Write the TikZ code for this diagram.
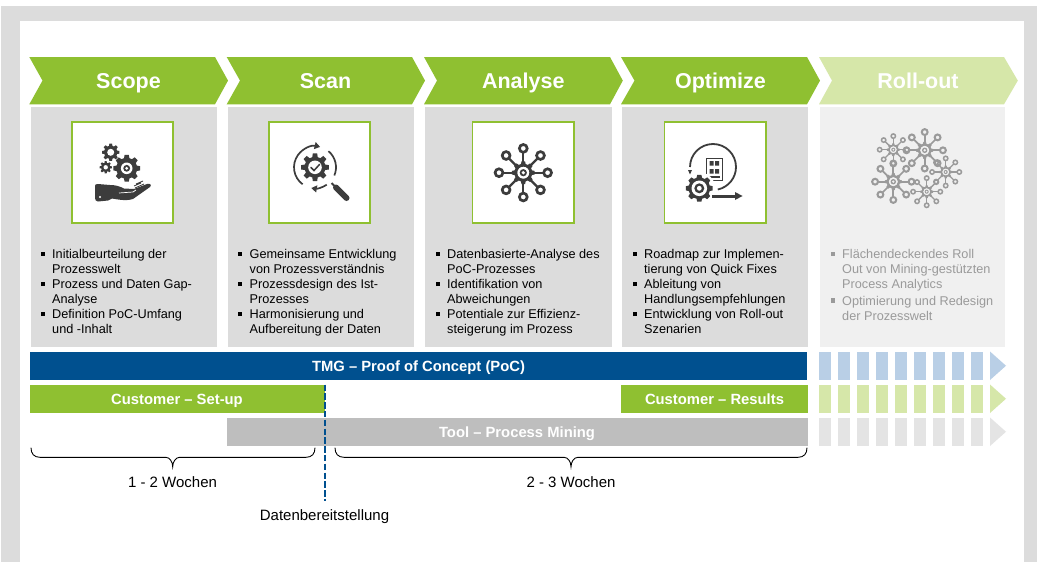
\documentclass[tikz,border=0pt]{standalone}
\usepackage{fontspec}
\setmainfont{Liberation Sans}
\usetikzlibrary{calc,arrows.meta}
\definecolor{tgreen}{HTML}{8FC031}
\definecolor{lgreen}{HTML}{D6E7A9}
\definecolor{tblue}{HTML}{00508F}
\definecolor{lblue}{HTML}{B9CFE6}
\definecolor{panel}{HTML}{DCDCDC}
\definecolor{lpanel}{HTML}{F0F0F0}
\definecolor{frame}{HTML}{DCDCDC}
\definecolor{toolgray}{HTML}{BEBEBE}
\definecolor{lgray}{HTML}{E4E4E4}
\definecolor{ink}{HTML}{3C3C3C}
\definecolor{fade}{HTML}{9A9A9A}
\newcommand{\bul}{\llap{\rule[2.6pt]{4.2pt}{4.2pt}\hspace{7.4pt}}}
\newcommand{\tgear}[6]{% x,y,router,rroot,rhole,colour
  \begin{scope}[shift={(#1,#2)}]
  \fill[#6] (9:#3)
    \foreach \a in {0,45,...,315}{
      -- (\a+9:#3) -- (\a+15:#4) -- (\a+30:#4) -- (\a+36:#3) }
    -- cycle;
  \fill[white] (0,0) circle (#5);
  \end{scope}}
\newcommand{\hubnet}[5]{% x,y,scale,colour,interior
  \begin{scope}[shift={(#1,#2)},scale=#3]
  \foreach \a in {0,45,...,315}{
    \draw[#4,line width=#3*2.3pt] (\a:8) -- (\a:20);
    \draw[#4,line width=#3*2.7pt] (\a:24.3) circle (3.9);}
  \tgear{0}{0}{11.5}{9}{5.8}{#4}
  \fill[#5] (0,0) circle (5.8);
  \fill[#4] (0,0) circle (3.6);
  \fill[#5] (0,0) circle (1.8);
  \end{scope}}
\tikzset{
  x=1pt,y=-1pt,
  chev/.style={fill=#1,draw=none},
  title/.style={font=\fontsize{21.5}{24}\selectfont\bfseries,text=white,inner sep=0,anchor=base},
  panelbox/.style={fill=#1,draw=none},
  iconbox/.style={fill=white,draw=tgreen,line width=1.3pt},
  bodytext/.style={font=\fontsize{12.7}{15.1}\selectfont,text=black,align=left,anchor=north west,inner sep=0},
  barlabel/.style={font=\fontsize{14.8}{17}\selectfont\bfseries,text=white,inner sep=0,anchor=base},
  plain/.style={font=\fontsize{15}{17}\selectfont,text=black,inner sep=0,anchor=base},
  curly/.style={draw=black,line width=0.9pt},
}
\begin{document}
\begin{tikzpicture}
\useasboundingbox (0,0) rectangle (1037,562);
% frame
\fill[white] (0,0) rectangle (1037,562);
\fill[frame] (1,5.5) rectangle (1037,562);
\fill[white] (19.5,20.5) rectangle (1024.3,562);
% chevrons
\fill[chev=tgreen] (29.3,57) -- (215,57) -- (228,80.6) -- (215,104.3) -- (29.3,104.3) -- (42.5,80.6) -- cycle;
\fill[chev=tgreen] (226.7,57) -- (412,57) -- (425,80.6) -- (412,104.3) -- (226.7,104.3) -- (240,80.6) -- cycle;
\fill[chev=tgreen] (424,57) -- (610,57) -- (622.8,80.6) -- (610,104.3) -- (424,104.3) -- (437,80.6) -- cycle;
\fill[chev=tgreen] (621,57) -- (807,57) -- (820,80.6) -- (807,104.3) -- (621,104.3) -- (634.5,80.6) -- cycle;
\fill[chev=lgreen] (819,57) -- (1004,57) -- (1017.8,80.6) -- (1004,104.3) -- (819,104.3) -- (832,80.6) -- cycle;
\node[title] (t1) at (128.5,88.7) {Scope};
\node[title] (t2) at (325.5,88.7) {Scan};
\node[title] (t3) at (523.3,88.7) {Analyse};
\node[title] (t4) at (720.5,88.7) {Optimize};
\node[title] (t5) at (918,88.7) {Roll-out};
% panels
\fill[panelbox=panel] (31,107) rectangle (217,347);
\fill[panelbox=panel] (228,107) rectangle (414,347);
\fill[panelbox=panel] (425,107) rectangle (611.5,347);
\fill[panelbox=panel] (622,107) rectangle (808,347);
\fill[panelbox=lpanel] (820,107) rectangle (1005,347);
% icon boxes
\draw[iconbox] (72,122) rectangle (173,223);
\draw[iconbox] (269,122) rectangle (370,223);
\draw[iconbox] (472.5,122) rectangle (574,223);
\draw[iconbox] (664.5,122) rectangle (766,223);
% icon scope
\tgear{126.7}{168.3}{13.5}{10.5}{5.8}{ink}
\fill[ink] (126.7,168.3) circle (3.4);
\fill[white] (126.7,168.3) circle (1.6);
\tgear{110.7}{152.3}{8.7}{6.6}{3.5}{ink}
\tgear{105.7}{167.3}{6.2}{4.6}{2.2}{ink}
\fill[ink] (95,186) .. controls (95,184.5) and (96,184) .. (98,184) -- (110,185) .. controls (116,185) and (120,186.5) .. (124,188.5) -- (134,189) -- (147,184) .. controls (150,183) and (152,185) .. (150,187) -- (133,199) .. controls (128,201) and (120,200) .. (112,198.5) -- (108,200.5) -- (98,201.5) .. controls (96,201.5) and (95,200) .. (95,198) -- cycle;
\fill[white] (100,197) circle (1.2);
\draw[white,line width=0.7pt] (119,193) -- (133,192) -- (136,190);
\draw[ink,line width=0.8pt] (134,186) -- (141,183) (136,184) -- (143,181) (135,188) -- (144,184);
% icon scan
\coordinate (sc) at (315,167.3);
\tgear{315}{167.3}{14}{10.5}{6.8}{ink}
\draw[ink,line width=1.5pt,line cap=round] (311,167.5) -- (314,170.5) -- (319.5,164.5);
\draw[ink,line width=1.7pt,-{Triangle[length=5.5pt,width=7pt]}] ($(sc)+(126:21)$) arc[start angle=126,end angle=284,radius=21];
\draw[ink,line width=1.7pt] ($(sc)+(310:21)$) arc[start angle=310,end angle=383,radius=21];
\draw[ink,line width=1.7pt,-{Triangle[length=5.5pt,width=7pt]}] ($(sc)+(56:21)$) arc[start angle=56,end angle=100,radius=21];
\draw[ink,line width=6pt,line cap=round] (336,187.5) -- (346.5,198);
\draw[ink,line width=1.8pt] (331.5,183) -- (337,188.5);
% icon analyse
\hubnet{523.3}{172.7}{1}{ink}{white}
% icon optimize
\coordinate (oc) at (713,167);
\draw[ink,line width=1.8pt] ($(oc)+(180:23)$) arc[start angle=180,end angle=438,radius=23];
\fill[ink] (688,170) -- (692,170) -- (690,174.5) -- cycle;
\draw[ink,line width=1pt] (706,158) rectangle (722,180);
\fill[ink] (709.5,161) rectangle (713.5,165.5) (715,161) rectangle (719,165.5);
\fill[ink] (709.5,169) rectangle (713.5,173.5) (715,169) rectangle (719,173.5);
\fill[ink] (708,176) rectangle (720,178);
\fill[white] (699.3,188.3) circle (16);
\tgear{699.3}{188.3}{13.5}{10.8}{7.8}{ink}
\fill[ink] (699.3,188.3) circle (5);
\fill[white] (699.3,188.3) circle (2.4);
\fill[ink] (712,194.5) rectangle (736,197.5);
\fill[ink] (735,192) -- (742.5,196) -- (735,200) -- cycle;
% icon rollout
\hubnet{924.7}{150.3}{0.75}{fade}{lpanel}
\hubnet{893.3}{149.7}{0.56}{fade}{lpanel}
\hubnet{893.3}{181.7}{0.75}{fade}{lpanel}
\hubnet{945.7}{172}{0.56}{fade}{lpanel}
\hubnet{926.7}{191.7}{0.56}{fade}{lpanel}
% lists
\node[bodytext] (l1) at (52,249) {\bul Initialbeurteilung der\\Prozesswelt\\\bul Prozess und Daten Gap-\\Analyse\\\bul Definition PoC-Umfang\\und -Inhalt};
\node[bodytext] (l2) at (249.5,249) {\bul Gemeinsame Entwicklung\\von Prozessverständnis\\\bul Prozessdesign des Ist-\\Prozesses\\\bul Harmonisierung und\\Aufbereitung der Daten};
\node[bodytext] (l3) at (447,249) {\bul Datenbasierte-Analyse des\\PoC-Prozesses\\\bul Identifikation von\\Abweichungen\\\bul Potentiale zur Effizienz-\\steigerung im Prozess};
\node[bodytext] (l4) at (644,249) {\bul Roadmap zur Implemen-\\tierung von Quick Fixes\\\bul Ableitung von\\Handlungsempfehlungen\\\bul Entwicklung von Roll-out\\Szenarien};
\node[bodytext,text=fade] (l5) at (842,249) {\bul Flächendeckendes Roll\\Out von Mining-gestützten\\Process Analytics\\[1.5pt]\bul Optimierung und Redesign\\der Prozesswelt};
% bars
\fill[tblue] (30,351.5) rectangle (807,380);
\fill[tgreen] (30,384.5) rectangle (325,413);
\fill[tgreen] (621,384.5) rectangle (808,413);
\fill[toolgray] (226.7,417.5) rectangle (808,446);
\node[barlabel] (b1) at (418.5,371.7) {TMG – Proof of Concept (PoC)};
\node[barlabel] (b2) at (177,404.5) {Customer – Set-up};
\node[barlabel] (b3) at (714.5,404.5) {Customer – Results};
\node[barlabel] (b4) at (517,437.5) {Tool – Process Mining};
% segments
\foreach \c/\yy in {lblue/351.5,lgreen/384.5,lgray/417.5}{
  \foreach \xx in {819,838,857,876,895,914,933,952,971}{
    \fill[\c] (\xx,\yy) rectangle ++(12,28.5);
  }
  \fill[\c] (990,\yy) -- (1006,\yy+14.25) -- (990,\yy+28.5) -- cycle;
}
% dashed marker
\coordinate (d1) at (324.5,384.5);
\coordinate (d2) at (324.5,501);
\draw[tblue,line width=2pt,dash pattern=on 6.4pt off 2.4pt] (d1) -- (d2);
% braces
\coordinate (ba) at (31,447.7);
\coordinate (bm) at (172.7,466.8);
\coordinate (bb) at (315,447.7);
\coordinate (bc) at (335,447.7);
\coordinate (bn) at (571,466.8);
\coordinate (bd) at (807,447.7);
\draw[curly] (ba) .. controls ($(ba)+(0,6)$) and ($(ba)+(3,9.6)$) .. ($(ba)+(9,9.6)$)
  -- ($(bm)+(-7,-9.5)$) .. controls ($(bm)+(-3,-9.5)$) and ($(bm)+(0,-5)$) .. (bm)
  .. controls ($(bm)+(0,-5)$) and ($(bm)+(3,-9.5)$) .. ($(bm)+(7,-9.5)$)
  -- ($(bb)+(-9,9.6)$) .. controls ($(bb)+(-3,9.6)$) and ($(bb)+(0,6)$) .. (bb);
\draw[curly] (bc) .. controls ($(bc)+(0,6)$) and ($(bc)+(3,9.6)$) .. ($(bc)+(9,9.6)$)
  -- ($(bn)+(-7,-9.5)$) .. controls ($(bn)+(-3,-9.5)$) and ($(bn)+(0,-5)$) .. (bn)
  .. controls ($(bn)+(0,-5)$) and ($(bn)+(3,-9.5)$) .. ($(bn)+(7,-9.5)$)
  -- ($(bd)+(-9,9.6)$) .. controls ($(bd)+(-3,9.6)$) and ($(bd)+(0,6)$) .. (bd);
\node[plain] (w1) at (172.5,487) {1 - 2 Wochen};
\node[plain] (w2) at (571,487) {2 - 3 Wochen};
\node[plain] (w3) at (324.5,520) {Datenbereitstellung};
\end{tikzpicture}
\end{document}
